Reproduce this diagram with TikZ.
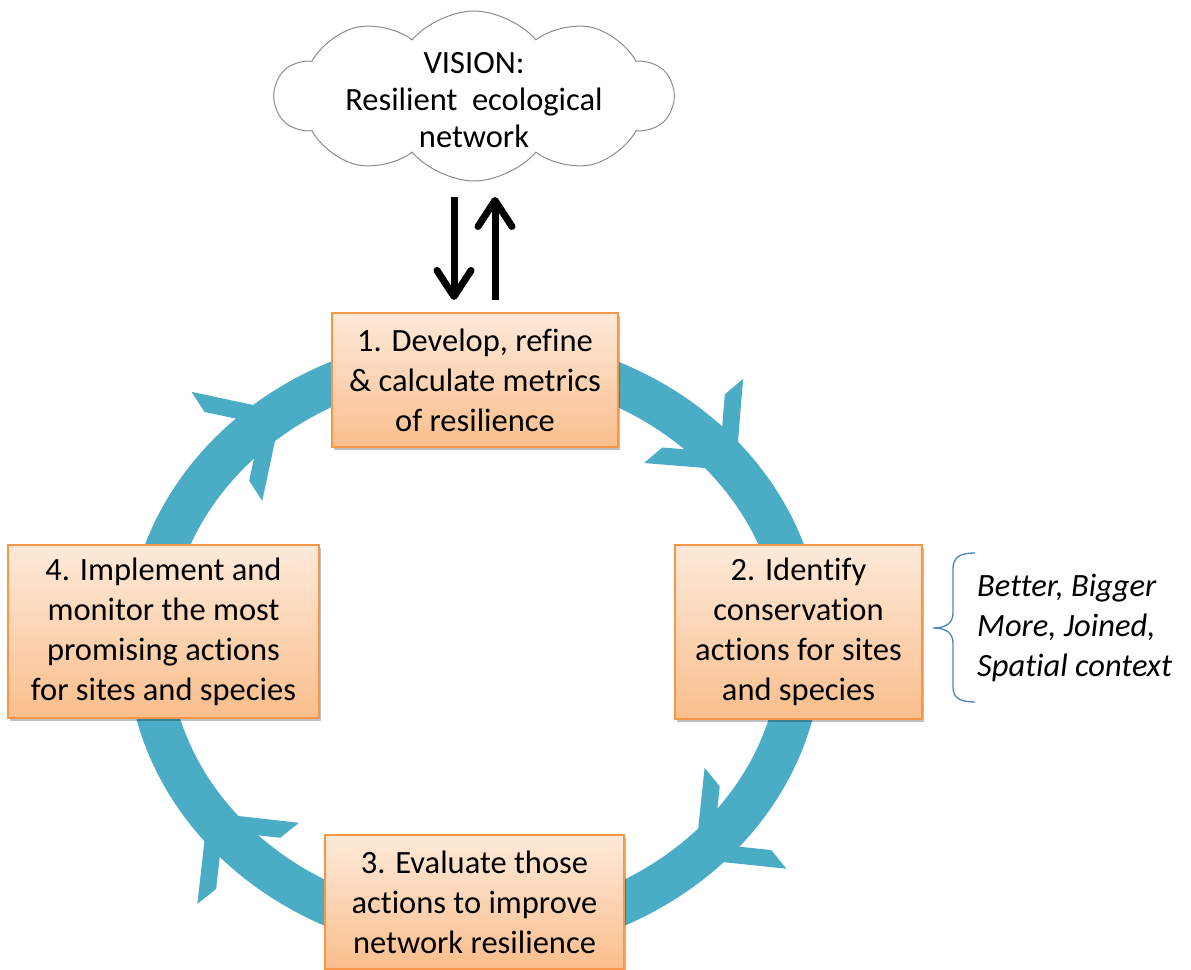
\documentclass[tikz,border=0pt]{standalone}
\usepackage{fontspec}
\setmainfont{Carlito}[Ligatures={NoCommon}]
\usetikzlibrary{shapes.symbols,shadows,arrows.meta}
\definecolor{ringc}{RGB}{75,172,198}
\definecolor{boxtop}{RGB}{253,234,218}
\definecolor{boxbot}{RGB}{250,190,140}
\definecolor{boxline}{RGB}{247,150,70}
\definecolor{bracec}{RGB}{79,129,189}
\definecolor{cloudline}{RGB}{140,140,140}
\newcommand\boxfont{\fontsize{32.5}{40}\selectfont}
\newcommand\cloudfont{\fontsize{32.5}{37}\selectfont}
\newcommand\sidefont{\fontsize{32.5}{40}\selectfont\itshape}
\begin{document}
\begin{tikzpicture}[x=1pt,y=1pt,
  stepbox/.style={draw=boxline, line width=1.2pt, top color=boxtop, bottom color=boxbot,
    align=center, inner sep=0pt, font=\boxfont,
    drop shadow={shadow xshift=2pt, shadow yshift=-3pt, opacity=0.25, fill=black}},
  ringline/.style={ringc, line width=42pt},
  vertarrow/.style={line width=7pt, -{Straight Barb[length=26pt,width=34pt,round]}}]
\useasboundingbox (0,0) rectangle (1191,969);
\def\cx{474.5}\def\cy{324}\def\ra{327}\def\rb{290}
% ring
\draw[ringline] (\cx,\cy) ellipse [x radius=\ra, y radius=\rb];
\foreach \t in {37,-47.6,215.3,126.2}{
  \pgfmathsetmacro\px{\cx+\ra*cos(\t)}
  \pgfmathsetmacro\py{\cy+\rb*sin(\t)}
  \pgfmathsetmacro\th{atan2(-\rb*cos(\t), \ra*sin(\t))}
  \fill[ringc, shift={(\px,\py)}, rotate=\th]
    (0,0) -- (-65,65) -- (-65,41) -- (-24,0) -- (-65,-41) -- (-65,-65) -- cycle;
}
% boxes
\node[stepbox, minimum width=286pt, minimum height=134pt] (s1) at (475,589)
  {1. Develop, refine\\ \& calculate metrics\\ of resilience};
\node[stepbox, minimum width=247pt, minimum height=174pt] (s2) at (798.5,337)
  {2. Identify\\ conservation\\ actions for sites\\ and species};
\node[stepbox, minimum width=299pt, minimum height=134pt] (s3) at (474.5,67)
  {3. Evaluate those\\ actions to improve\\ network resilience};
\node[stepbox, minimum width=311pt, minimum height=173pt] (s4) at (163.5,337.5)
  {4. Implement and\\ monitor the most\\ promising actions\\ for sites and species};
% cloud
\node[cloud, draw=cloudline, fill=white, line width=1pt, cloud puffs=10, cloud puff arc=100,
  minimum width=398pt, minimum height=170pt, inner sep=0pt] (cloud) at (474,873) {};
\node[font=\cloudfont, align=center, inner sep=0pt] (vision) at (474,869)
  {VISION:\\ Resilient\hspace{0.45em}ecological\\ network};
% vertical arrows
\coordinate (d1) at (454,772);
\coordinate (d2) at (454,669);
\coordinate (u1) at (495,669);
\coordinate (u2) at (495,772);
\draw[vertarrow] (d1) -- (d2);
\draw[vertarrow] (u1) -- (u2);
% brace
\coordinate (bt) at (975,416);
\coordinate (bm) at (933,341);
\coordinate (bb) at (975,267);
\draw[bracec, line width=1.3pt] (bt) .. controls (960,416) and (953,412) .. (953,400)
  -- (953,356) .. controls (953,346) and (946,341) .. (bm)
  .. controls (946,341) and (953,336) .. (953,326)
  -- (953,282) .. controls (953,271) and (960,267) .. (bb);
\node[font=\sidefont, align=left, anchor=west, inner sep=0pt] (bbm) at (977,341)
  {Better, Bigger\\ More, Joined,\\ Spatial context};
\end{tikzpicture}
\end{document}
